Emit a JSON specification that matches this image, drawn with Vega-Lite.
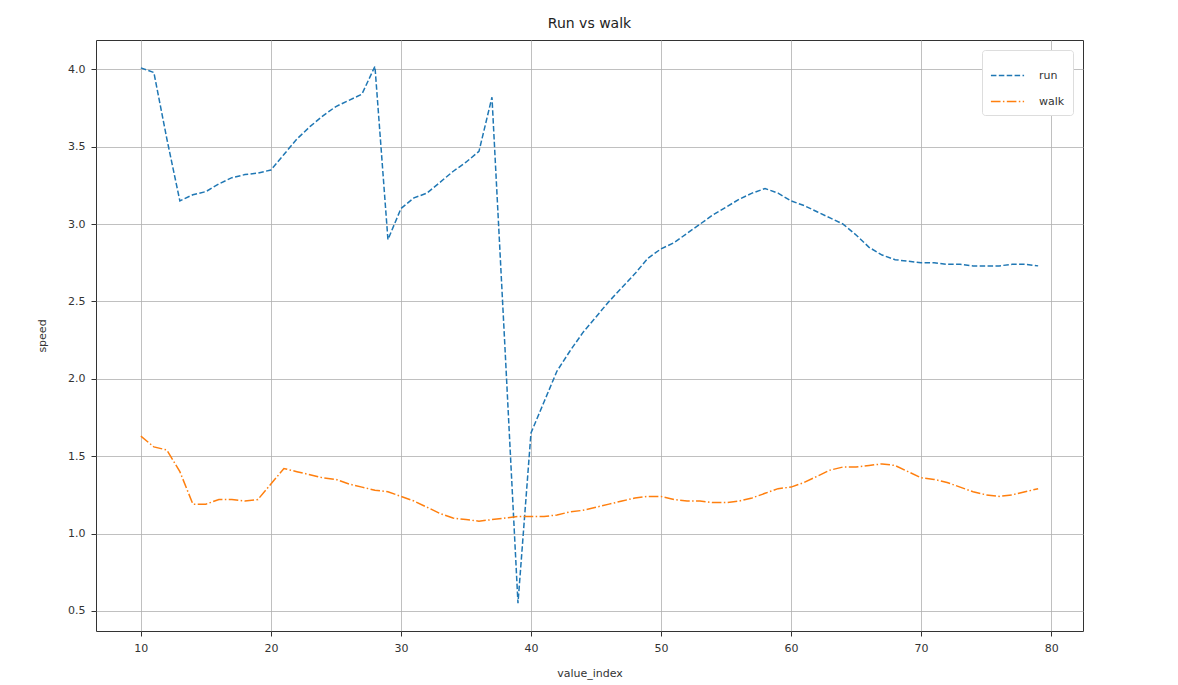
{
  "$schema": "https://vega.github.io/schema/vega-lite/v6.json",
  "width": 987,
  "height": 591,
  "autosize": "none",
  "padding": {"left": 96, "top": 40, "right": 95, "bottom": 54},
  "background": "white",
  "title": {"text": "Run vs walk", "fontSize": 14, "fontWeight": "normal", "font": "DejaVu Sans", "color": "#222", "offset": 9},
  "datasets": {
    "speeds": [
      {"value_index": 10, "run": 4.01, "walk": 1.63},
      {"value_index": 11, "run": 3.98, "walk": 1.56},
      {"value_index": 12, "run": 3.55, "walk": 1.54},
      {"value_index": 13, "run": 3.15, "walk": 1.40},
      {"value_index": 14, "run": 3.19, "walk": 1.19},
      {"value_index": 15, "run": 3.21, "walk": 1.19},
      {"value_index": 16, "run": 3.26, "walk": 1.22},
      {"value_index": 17, "run": 3.30, "walk": 1.22},
      {"value_index": 18, "run": 3.32, "walk": 1.21},
      {"value_index": 19, "run": 3.33, "walk": 1.22},
      {"value_index": 20, "run": 3.35, "walk": 1.32},
      {"value_index": 21, "run": 3.45, "walk": 1.42},
      {"value_index": 22, "run": 3.55, "walk": 1.40},
      {"value_index": 23, "run": 3.63, "walk": 1.38},
      {"value_index": 24, "run": 3.70, "walk": 1.36},
      {"value_index": 25, "run": 3.76, "walk": 1.35},
      {"value_index": 26, "run": 3.80, "walk": 1.32},
      {"value_index": 27, "run": 3.84, "walk": 1.30},
      {"value_index": 28, "run": 4.02, "walk": 1.28},
      {"value_index": 29, "run": 2.90, "walk": 1.27},
      {"value_index": 30, "run": 3.10, "walk": 1.24},
      {"value_index": 31, "run": 3.17, "walk": 1.21},
      {"value_index": 32, "run": 3.20, "walk": 1.17},
      {"value_index": 33, "run": 3.27, "walk": 1.13},
      {"value_index": 34, "run": 3.34, "walk": 1.10},
      {"value_index": 35, "run": 3.40, "walk": 1.09},
      {"value_index": 36, "run": 3.47, "walk": 1.08},
      {"value_index": 37, "run": 3.82, "walk": 1.09},
      {"value_index": 38, "run": 2.20, "walk": 1.10},
      {"value_index": 39, "run": 0.55, "walk": 1.11},
      {"value_index": 40, "run": 1.65, "walk": 1.11},
      {"value_index": 41, "run": 1.85, "walk": 1.11},
      {"value_index": 42, "run": 2.05, "walk": 1.12},
      {"value_index": 43, "run": 2.18, "walk": 1.14},
      {"value_index": 44, "run": 2.30, "walk": 1.15},
      {"value_index": 45, "run": 2.40, "walk": 1.17},
      {"value_index": 46, "run": 2.50, "walk": 1.19},
      {"value_index": 47, "run": 2.59, "walk": 1.21},
      {"value_index": 48, "run": 2.68, "walk": 1.23},
      {"value_index": 49, "run": 2.78, "walk": 1.24},
      {"value_index": 50, "run": 2.84, "walk": 1.24},
      {"value_index": 51, "run": 2.88, "walk": 1.22},
      {"value_index": 52, "run": 2.94, "walk": 1.21},
      {"value_index": 53, "run": 3.00, "walk": 1.21},
      {"value_index": 54, "run": 3.06, "walk": 1.20},
      {"value_index": 55, "run": 3.11, "walk": 1.20},
      {"value_index": 56, "run": 3.16, "walk": 1.21},
      {"value_index": 57, "run": 3.20, "walk": 1.23},
      {"value_index": 58, "run": 3.23, "walk": 1.26},
      {"value_index": 59, "run": 3.20, "walk": 1.29},
      {"value_index": 60, "run": 3.15, "walk": 1.30},
      {"value_index": 61, "run": 3.12, "walk": 1.33},
      {"value_index": 62, "run": 3.08, "walk": 1.37},
      {"value_index": 63, "run": 3.04, "walk": 1.41},
      {"value_index": 64, "run": 3.00, "walk": 1.43},
      {"value_index": 65, "run": 2.93, "walk": 1.43},
      {"value_index": 66, "run": 2.85, "walk": 1.44},
      {"value_index": 67, "run": 2.80, "walk": 1.45},
      {"value_index": 68, "run": 2.77, "walk": 1.44},
      {"value_index": 69, "run": 2.76, "walk": 1.40},
      {"value_index": 70, "run": 2.75, "walk": 1.36},
      {"value_index": 71, "run": 2.75, "walk": 1.35},
      {"value_index": 72, "run": 2.74, "walk": 1.33},
      {"value_index": 73, "run": 2.74, "walk": 1.30},
      {"value_index": 74, "run": 2.73, "walk": 1.27},
      {"value_index": 75, "run": 2.73, "walk": 1.25},
      {"value_index": 76, "run": 2.73, "walk": 1.24},
      {"value_index": 77, "run": 2.74, "walk": 1.25},
      {"value_index": 78, "run": 2.74, "walk": 1.27},
      {"value_index": 79, "run": 2.73, "walk": 1.29}
    ]
  },
  "data": {"name": "speeds"},
  "transform": [{"fold": ["run", "walk"], "as": ["series", "speed"]}],
  "mark": {"type": "line", "strokeWidth": 1.5, "clip": true},
  "encoding": {
    "x": {
      "field": "value_index", "type": "quantitative",
      "scale": {"domain": [6.55, 82.45], "nice": false, "zero": false},
      "axis": {"values": [10, 20, 30, 40, 50, 60, 70, 80], "title": "value_index"}
    },
    "y": {
      "field": "speed", "type": "quantitative",
      "scale": {"domain": [0.37, 4.19], "nice": false, "zero": false},
      "axis": {"values": [0.5, 1.0, 1.5, 2.0, 2.5, 3.0, 3.5, 4.0], "format": ".1f", "title": "speed"}
    },
    "color": {
      "field": "series", "type": "nominal",
      "scale": {"domain": ["run", "walk"], "range": ["#1f77b4", "#ff7f0e"]},
      "legend": {"title": null}
    },
    "strokeDash": {
      "field": "series", "type": "nominal",
      "scale": {"domain": ["run", "walk"], "range": [[5.5, 2.4], [9.6, 2.4, 1.5, 2.4]]},
      "legend": {"title": null}
    }
  },
  "config": {
    "font": "DejaVu Sans",
    "view": {"stroke": "#333", "strokeWidth": 1},
    "axis": {
      "domain": false,
      "grid": true,
      "gridColor": "#b0b0b0",
      "gridWidth": 0.8,
      "ticks": true,
      "tickColor": "#333",
      "tickSize": 5,
      "labelFont": "DejaVu Sans",
      "labelFontSize": 11,
      "labelColor": "#333",
      "titleFont": "DejaVu Sans",
      "titleFontSize": 11,
      "titleFontWeight": "normal",
      "titleColor": "#333",
      "labelPadding": 6
    },
    "axisX": {"titlePadding": 14},
    "axisY": {"titlePadding": 20},
    "legend": {
      "orient": "top-right",
      "offset": 10,
      "symbolType": "stroke",
      "symbolSize": 1100,
      "symbolStrokeWidth": 1.5,
      "labelFontSize": 11,
      "labelFont": "DejaVu Sans",
      "labelColor": "#333",
      "labelOffset": 14,
      "fillColor": "white",
      "strokeColor": "#ddd",
      "cornerRadius": 3,
      "padding": 8,
      "rowPadding": 3
    }
  }
}
